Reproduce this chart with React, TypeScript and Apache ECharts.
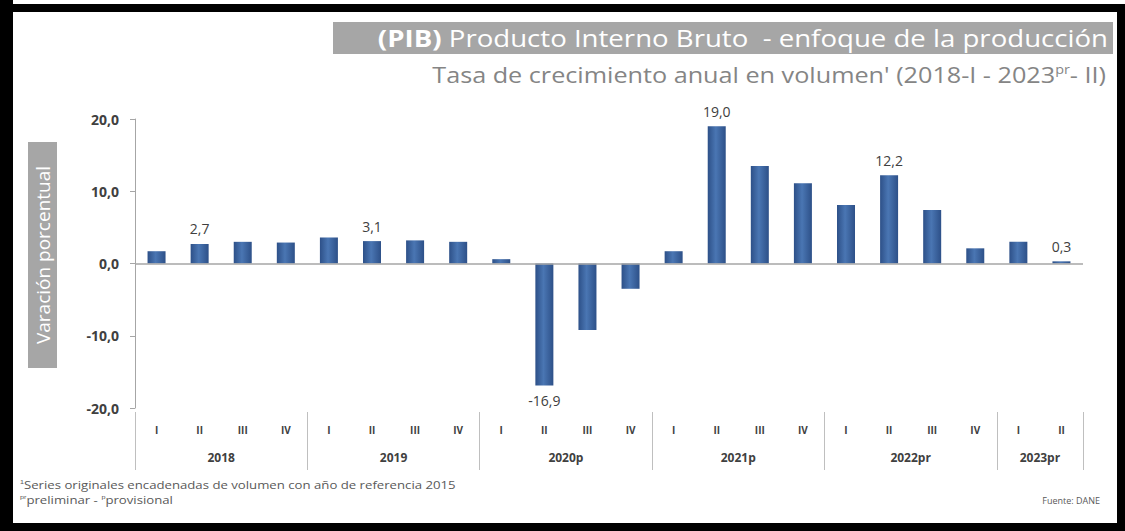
import React, { useEffect, useRef } from "react";
import * as echarts from "echarts";

const quarters = ["I", "II", "III", "IV", "I", "II", "III", "IV", "I", "II", "III", "IV", "I", "II", "III", "IV", "I", "II", "III", "IV", "I", "II"];
const years = ["2018", "2019", "2020p", "2021p", "2022pr", "2023pr"];
const quartersPerYear = [4, 4, 4, 4, 4, 2];
const growth = [1.7, 2.7, 3.0, 2.9, 3.6, 3.1, 3.2, 3.0, 0.6, -16.9, -9.2, -3.5, 1.7, 19.0, 13.5, 11.1, 8.1, 12.2, 7.4, 2.1, 3.0, 0.3];
const labelled = [1, 5, 9, 13, 17, 21];
const yTicks = [-20, -10, 0, 10, 20];

const FONT = "'Open Sans', 'Noto Sans', sans-serif";

function fmt(v: number) {
  return v.toFixed(1).replace(".", ",");
}

// half-quarter positions for the year axis (boundaryGap false)
function buildYearAxis() {
  const total = quartersPerYear.reduce((a, b) => a + b, 0) * 2;
  const cats: string[] = [];
  for (let i = 0; i <= total; i++) cats.push("");
  const seps: number[] = [0];
  let pos = 0;
  years.forEach((y, k) => {
    const w = quartersPerYear[k] * 2;
    cats[pos + w / 2] = y;
    pos += w;
    seps.push(pos);
  });
  return { cats, seps };
}

export default function App() {
  const ref = useRef<HTMLDivElement>(null);
  useEffect(() => {
    document.body.style.margin = "0";
    const chart = echarts.init(ref.current!, null, { renderer: "svg" });
    const { cats, seps } = buildYearAxis();
    const barColor = new echarts.graphic.LinearGradient(0, 0, 1, 0, [
      { offset: 0, color: "#2d5088" },
      { offset: 0.45, color: "#4a76b3" },
      { offset: 1, color: "#2d5088" },
    ]);
    const data = growth.map((v, i) => ({
      value: v,
      label: {
        show: labelled.includes(i),
        position: v < 0 ? "bottom" : "top",
        distance: 8,
      },
    }));
    chart.setOption({
      animation: false,
      backgroundColor: "#ffffff",
      grid: { left: 135, right: 42, top: 119, bottom: 123, containLabel: false },
      xAxis: [
        {
          type: "category",
          data: quarters,
          position: "bottom",
          axisLine: { show: false, onZero: false },
          axisTick: { show: false },
          axisLabel: { margin: 17, fontSize: 10, fontWeight: "bold", color: "#404040", fontFamily: FONT },
        },
        {
          type: "category",
          data: cats,
          boundaryGap: false,
          position: "bottom",
          offset: 4,
          axisLine: { show: false, onZero: false },
          axisTick: {
            show: true,
            length: 58,
            interval: (idx: number) => seps.includes(idx),
            lineStyle: { color: "#bfbfbf", width: 1 },
          },
          axisLabel: { interval: 0, margin: 39, fontSize: 12, fontWeight: "bold", color: "#404040", fontFamily: FONT },
        },
      ],
      yAxis: {
        type: "value",
        min: -20,
        max: 20,
        interval: 10,
        axisLine: { show: true, lineStyle: { color: "#a6a6a6" } },
        axisTick: { show: true, length: 5, lineStyle: { color: "#a6a6a6" } },
        splitLine: { show: false },
        axisLabel: {
          margin: 16,
          fontSize: 14,
          fontWeight: "bold",
          color: "#404040",
          fontFamily: FONT,
          formatter: (v: number) => (yTicks.includes(v) ? fmt(v) : ""),
        },
      },
      series: [
        {
          type: "bar",
          xAxisIndex: 0,
          data,
          barWidth: 18,
          itemStyle: { color: barColor },
          label: {
            fontSize: 14,
            color: "#404040",
            fontFamily: FONT,
            formatter: (p: any) => fmt(p.value),
          },
          markLine: {
            silent: true,
            symbol: "none",
            label: { show: false },
            lineStyle: { color: "#a6a6a6", type: "solid", width: 1.5 },
            data: [{ yAxis: 0 }],
          },
        },
      ],
      graphic: [
        { type: "rect", shape: { x: 0, y: 0, width: 13, height: 531 }, style: { fill: "#000" } },
        { type: "rect", shape: { x: 7, y: 4, width: 1118, height: 8 }, style: { fill: "#000" } },
        { type: "rect", shape: { x: 1117, y: 4, width: 8, height: 527 }, style: { fill: "#000" } },
        { type: "rect", shape: { x: 0, y: 523, width: 1125, height: 8 }, style: { fill: "#000" } },
        { type: "rect", shape: { x: 333, y: 22, width: 780, height: 32 }, style: { fill: "#a6a6a6" } },
        {
          type: "text",
          x: 1108,
          y: 38,
          scaleX: 1.15,
          style: {
            text: "{b|(PIB)} Producto Interno Bruto  - enfoque de la producción",
            align: "right",
            verticalAlign: "middle",
            fill: "#ffffff",
            font: `24px ${FONT}`,
            rich: {
              b: { fontWeight: "bold", fontSize: 24, fill: "#ffffff", fontFamily: FONT },
            },
          },
        },
        {
          type: "text",
          x: 1106,
          y: 75,
          scaleX: 1.2,
          style: {
            text: "Tasa de crecimiento anual en volumen' (2018-I - 2023{s|pr}- II)",
            align: "right",
            verticalAlign: "middle",
            fill: "#858585",
            font: `21px ${FONT}`,
            rich: {
              s: { fontSize: 12, fill: "#858585", fontFamily: FONT, padding: [0, 0, 12, 0] },
            },
          },
        },
        { type: "rect", shape: { x: 28, y: 142, width: 29, height: 226 }, style: { fill: "#a6a6a6" } },
        {
          type: "text",
          x: 43,
          y: 255,
          rotation: Math.PI / 2,
          style: {
            text: "Varación porcentual",
            align: "center",
            verticalAlign: "middle",
            fill: "#ffffff",
            font: `19px ${FONT}`,
          },
        },
        {
          type: "text",
          x: 20,
          y: 485,
          scaleX: 1.2,
          style: {
            text: "{s|1}Series originales encadenadas de volumen con año de referencia 2015",
            verticalAlign: "middle",
            fill: "#595959",
            font: `11px ${FONT}`,
            rich: { s: { fontSize: 6, fill: "#595959", padding: [0, 0, 6, 0] } },
          },
        },
        {
          type: "text",
          x: 20,
          y: 500,
          scaleX: 1.2,
          style: {
            text: "{s|pr}preliminar - {s|p}provisional",
            verticalAlign: "middle",
            fill: "#595959",
            font: `11px ${FONT}`,
            rich: { s: { fontSize: 6, fill: "#595959", padding: [0, 0, 6, 0] } },
          },
        },
        {
          type: "text",
          x: 1100,
          y: 500,
          style: {
            text: "Fuente: DANE",
            align: "right",
            verticalAlign: "middle",
            fill: "#595959",
            font: `9px ${FONT}`,
          },
        },
      ],
    });
    return () => chart.dispose();
  }, []);
  return <div ref={ref} style={{ position: "fixed", left: 0, top: 0, width: 1125, height: 531 }} />;
}
